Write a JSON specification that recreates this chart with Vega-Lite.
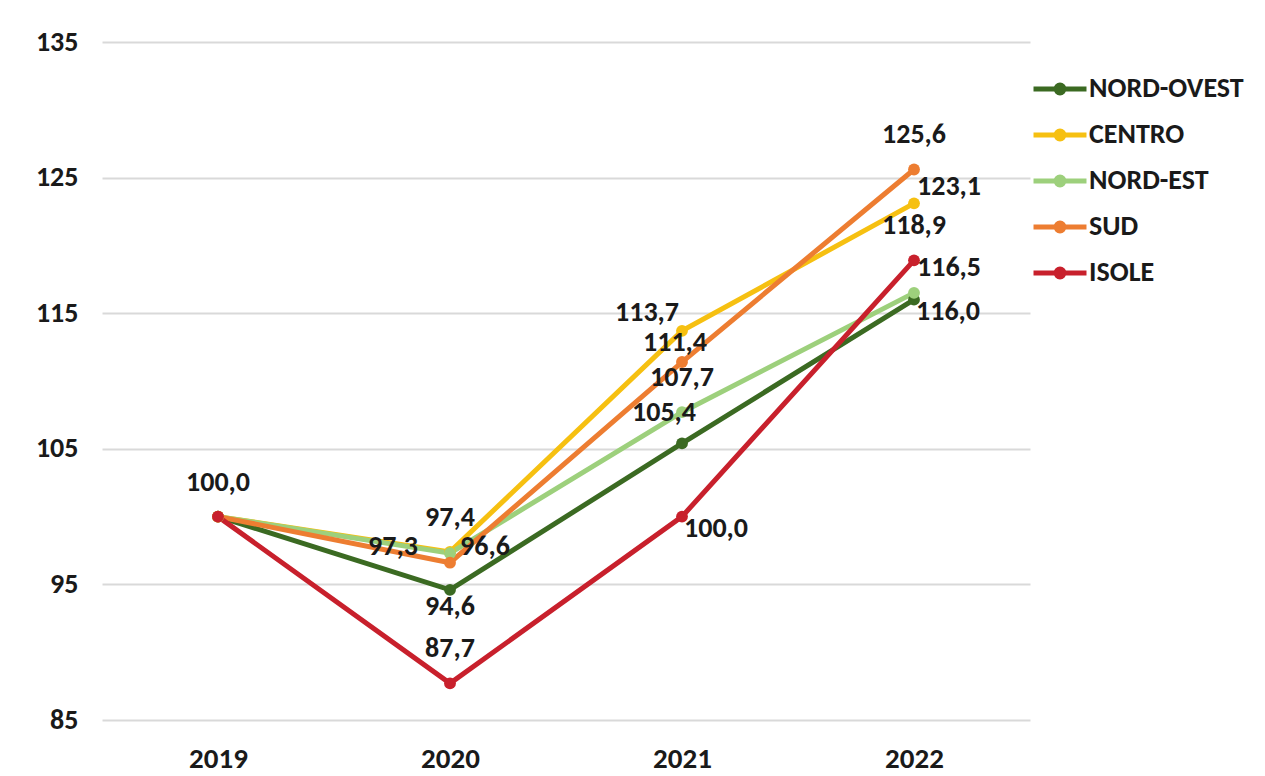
{
  "$schema": "https://vega.github.io/schema/vega-lite/v6.json",
  "width": 928,
  "height": 678,
  "autosize": {"type": "none"},
  "padding": {"left": 102, "top": 42, "right": 235, "bottom": 56},
  "background": "#ffffff",
  "config": {
    "locale": {"number": {"decimal": ",", "thousands": ".", "grouping": [3], "currency": ["€", ""]}},
    "view": {"stroke": null},
    "font": "Carlito, Lato, sans-serif"
  },
  "data": {
    "values": [
      {"serie": "NORD-OVEST", "anno": "2019", "valore": 100.0},
      {"serie": "NORD-OVEST", "anno": "2020", "valore": 94.6},
      {"serie": "NORD-OVEST", "anno": "2021", "valore": 105.4},
      {"serie": "NORD-OVEST", "anno": "2022", "valore": 116.0},
      {"serie": "CENTRO", "anno": "2019", "valore": 100.0},
      {"serie": "CENTRO", "anno": "2020", "valore": 97.4},
      {"serie": "CENTRO", "anno": "2021", "valore": 113.7},
      {"serie": "CENTRO", "anno": "2022", "valore": 123.1},
      {"serie": "NORD-EST", "anno": "2019", "valore": 100.0},
      {"serie": "NORD-EST", "anno": "2020", "valore": 97.3},
      {"serie": "NORD-EST", "anno": "2021", "valore": 107.7},
      {"serie": "NORD-EST", "anno": "2022", "valore": 116.5},
      {"serie": "SUD", "anno": "2019", "valore": 100.0},
      {"serie": "SUD", "anno": "2020", "valore": 96.6},
      {"serie": "SUD", "anno": "2021", "valore": 111.4},
      {"serie": "SUD", "anno": "2022", "valore": 125.6},
      {"serie": "ISOLE", "anno": "2019", "valore": 100.0},
      {"serie": "ISOLE", "anno": "2020", "valore": 87.7},
      {"serie": "ISOLE", "anno": "2021", "valore": 100.0},
      {"serie": "ISOLE", "anno": "2022", "valore": 118.9}
    ]
  },
  "encoding": {
    "x": {
      "field": "anno", "type": "ordinal",
      "scale": {"type": "point", "padding": 0.5},
      "axis": {"title": null, "labelAngle": 0, "ticks": false, "domain": false, "grid": false,
               "labelFontSize": 29, "labelFontWeight": "bold", "labelColor": "#1a1a1a", "labelPadding": 24}
    },
    "y": {
      "field": "valore", "type": "quantitative",
      "scale": {"domain": [85, 135], "nice": false, "zero": false},
      "axis": {"title": null, "values": [85, 95, 105, 115, 125, 135], "ticks": false, "domain": false,
               "grid": true, "gridColor": "#d9d9d9", "gridWidth": 2,
               "labelFontSize": 28, "labelFontWeight": "bold", "labelColor": "#1a1a1a", "labelPadding": 24}
    },
    "color": {
      "field": "serie", "type": "nominal",
      "scale": {"domain": ["NORD-OVEST", "CENTRO", "NORD-EST", "SUD", "ISOLE"],
                "range": ["#3b6a22", "#f6c011", "#9dd07c", "#ed7d31", "#c8202c"]},
      "legend": {
        "title": null, "orient": "none", "legendX": 942, "legendY": 31, "padding": 0,
        "symbolType": "M-2,0H2M0.3,0A0.3,0.3 0 1,1 -0.3,0A0.3,0.3 0 1,1 0.3,0",
        "symbolSize": 702, "symbolStrokeWidth": 5, "rowPadding": 16, "labelOffset": 13,
        "labelFontSize": 28, "labelFontWeight": "bold", "labelColor": "#1a1a1a", "labelLimit": 0,
        "encode": {"symbols": {"update": {"fill": {"scale": "color", "field": "value"}, "stroke": {"scale": "color", "field": "value"}, "opacity": {"value": 1}}}}
      }
    }
  },
  "layer": [
    {"mark": {"type": "line", "strokeWidth": 5}},
    {"mark": {"type": "point", "filled": true, "size": 140, "opacity": 1}},
    {
      "transform": [{"filter": "(datum.serie==='ISOLE' && (datum.anno==='2019' || datum.anno==='2022' || datum.anno==='2020')) || (datum.serie==='CENTRO' && datum.anno==='2020') || (datum.serie==='NORD-EST' && datum.anno==='2021') || (datum.serie==='SUD' && datum.anno==='2022')"}],
      "mark": {"type": "text", "dy": -34, "fontSize": 28, "fontWeight": "bold"},
      "encoding": {"text": {"field": "valore", "type": "quantitative", "format": ".1f"}, "color": {"value": "#1a1a1a"}}
    },
    {
      "transform": [{"filter": "datum.serie==='NORD-OVEST' && datum.anno==='2020'"}],
      "mark": {"type": "text", "dy": 17, "fontSize": 28, "fontWeight": "bold"},
      "encoding": {"text": {"field": "valore", "type": "quantitative", "format": ".1f"}, "color": {"value": "#1a1a1a"}}
    },
    {
      "transform": [{"filter": "datum.serie==='NORD-EST' && datum.anno==='2020'"}],
      "mark": {"type": "text", "dx": -57, "dy": -6, "fontSize": 28, "fontWeight": "bold"},
      "encoding": {"text": {"field": "valore", "type": "quantitative", "format": ".1f"}, "color": {"value": "#1a1a1a"}}
    },
    {
      "transform": [{"filter": "(datum.serie==='SUD' && datum.anno==='2020') || (datum.serie==='CENTRO' && datum.anno==='2022')"}],
      "mark": {"type": "text", "dx": 35, "dy": -16, "fontSize": 28, "fontWeight": "bold"},
      "encoding": {"text": {"field": "valore", "type": "quantitative", "format": ".1f"}, "color": {"value": "#1a1a1a"}}
    },
    {
      "transform": [{"filter": "datum.serie==='NORD-EST' && datum.anno==='2022'"}],
      "mark": {"type": "text", "dx": 35, "dy": -25, "fontSize": 28, "fontWeight": "bold"},
      "encoding": {"text": {"field": "valore", "type": "quantitative", "format": ".1f"}, "color": {"value": "#1a1a1a"}}
    },
    {
      "transform": [{"filter": "(datum.serie==='NORD-OVEST' && datum.anno==='2022') || (datum.serie==='ISOLE' && datum.anno==='2021')"}],
      "mark": {"type": "text", "dx": 34, "dy": 12, "fontSize": 28, "fontWeight": "bold"},
      "encoding": {"text": {"field": "valore", "type": "quantitative", "format": ".1f"}, "color": {"value": "#1a1a1a"}}
    },
    {
      "transform": [{"filter": "datum.serie==='CENTRO' && datum.anno==='2021'"}],
      "mark": {"type": "text", "dx": -35, "dy": -18, "fontSize": 28, "fontWeight": "bold"},
      "encoding": {"text": {"field": "valore", "type": "quantitative", "format": ".1f"}, "color": {"value": "#1a1a1a"}}
    },
    {
      "transform": [{"filter": "datum.serie==='SUD' && datum.anno==='2021'"}],
      "mark": {"type": "text", "dx": -7, "dy": -19, "fontSize": 28, "fontWeight": "bold"},
      "encoding": {"text": {"field": "valore", "type": "quantitative", "format": ".1f"}, "color": {"value": "#1a1a1a"}}
    },
    {
      "transform": [{"filter": "datum.serie==='NORD-OVEST' && datum.anno==='2021'"}],
      "mark": {"type": "text", "dx": -18, "dy": -30, "fontSize": 28, "fontWeight": "bold"},
      "encoding": {"text": {"field": "valore", "type": "quantitative", "format": ".1f"}, "color": {"value": "#1a1a1a"}}
    }
  ]
}
